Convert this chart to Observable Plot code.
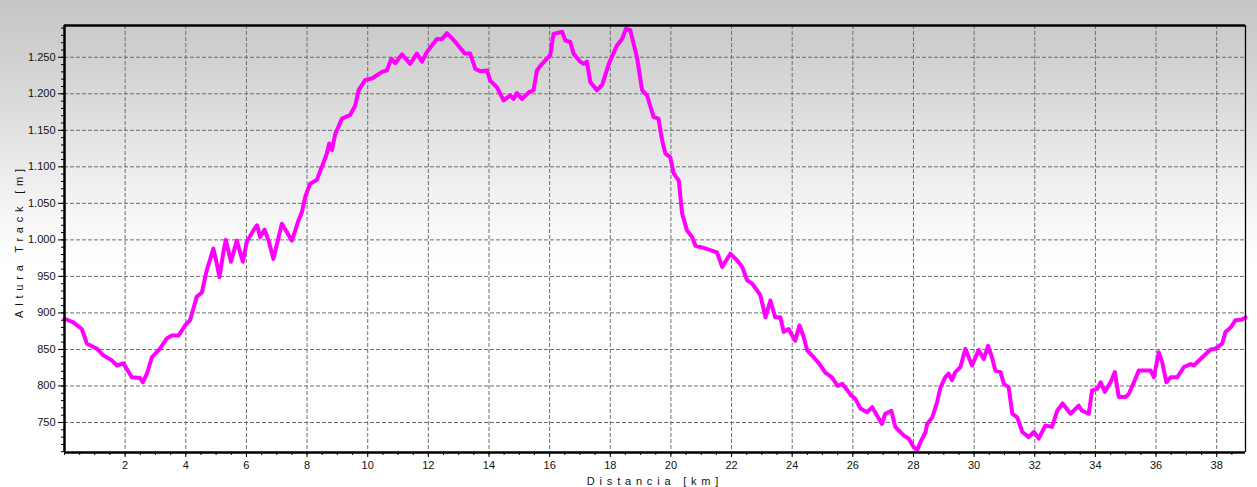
<!DOCTYPE html>
<html>
<head>
<meta charset="utf-8">
<script src="https://cdn.jsdelivr.net/npm/d3@7"></script>
<script src="https://cdn.jsdelivr.net/npm/@observablehq/plot@0.6"></script>
<style>
  html, body { margin: 0; padding: 0; background: #fff; }
  #wrap {
    width: 1257px; height: 487px; overflow: hidden;
    background: linear-gradient(to bottom, #c6c6c6 0px, #cdcdcd 40px, #dadada 100px, #e8e8e8 155px, #f6f6f6 215px, #ffffff 265px, #ffffff 487px);
  }
</style>
</head>
<body>
<div id="wrap"></div>
<script>
const distKm = [0,0.29,0.57,0.74,1.07,1.28,1.56,1.73,1.94,2.22,2.49,2.58,2.72,2.88,3.15,3.37,3.54,3.76,3.98,4.14,4.36,4.53,4.69,4.91,5.0,5.11,5.24,5.32,5.49,5.68,5.88,6.01,6.23,6.35,6.45,6.6,6.73,6.89,7.17,7.5,7.72,7.83,7.94,8.1,8.32,8.49,8.65,8.73,8.82,8.93,9.15,9.42,9.59,9.7,9.92,10.14,10.47,10.63,10.78,10.91,11.13,11.4,11.62,11.79,11.95,12.28,12.45,12.61,12.89,13.2,13.38,13.55,13.71,13.93,14.04,14.26,14.48,14.7,14.81,14.92,15.09,15.31,15.47,15.58,15.75,16.02,16.13,16.41,16.52,16.68,16.79,17.01,17.12,17.23,17.34,17.56,17.73,17.95,18.22,18.39,18.52,18.66,18.88,19.05,19.21,19.43,19.59,19.71,19.82,19.98,20.09,20.26,20.37,20.53,20.7,20.81,21.08,21.3,21.52,21.69,21.96,22.18,22.35,22.51,22.68,22.84,22.95,23.12,23.28,23.44,23.61,23.72,23.88,24.1,24.24,24.38,24.49,24.71,24.9,25.1,25.3,25.5,25.65,25.8,25.95,26.09,26.25,26.47,26.64,26.96,27.07,27.27,27.4,27.68,27.84,28.01,28.12,28.23,28.4,28.45,28.62,28.78,28.89,29.05,29.16,29.27,29.38,29.55,29.71,29.93,30.15,30.32,30.46,30.59,30.7,30.87,30.98,31.14,31.26,31.42,31.59,31.8,31.97,32.13,32.35,32.57,32.74,32.92,33.18,33.45,33.56,33.78,33.89,34.06,34.17,34.31,34.5,34.64,34.77,34.99,35.1,35.27,35.43,35.66,35.82,35.93,36.09,36.2,36.34,36.48,36.7,36.92,37.14,37.25,37.52,37.8,37.96,38.18,38.29,38.46,38.62,38.84,38.95];
const altM = [892,887,878,858,851,842,835,828,831,812,811,805,817,839,851,865,869,869,883,890,922,928,958,988,972,949,983,1000,970,999,970,997,1013,1020,1004,1014,999,974,1022,999,1027,1038,1059,1077,1082,1100,1118,1132,1123,1145,1166,1171,1184,1205,1219,1221,1230,1232,1248,1242,1254,1241,1255,1244,1257,1275,1275,1283,1271,1255,1255,1234,1231,1232,1218,1209,1191,1198,1193,1201,1193,1202,1205,1232,1241,1253,1282,1285,1273,1271,1255,1244,1241,1244,1216,1205,1212,1241,1266,1275,1289,1287,1250,1205,1198,1168,1166,1136,1118,1113,1091,1081,1036,1013,1004,992,989,986,983,963,981,972,963,945,940,931,924,894,917,894,894,874,878,862,883,867,849,839,830,818,812,800,803,795,787,782,769,764,771,748,762,766,744,732,728,716,712,723,737,748,757,778,798,812,817,808,819,826,851,828,849,837,855,839,821,819,803,798,762,757,737,730,737,728,746,744,766,776,762,773,766,762,794,796,805,792,805,819,785,785,789,805,821,821,821,812,846,833,805,812,812,826,830,828,839,850,851,858,874,880,890,891,894];

const xTicks = d3.range(2, 39, 2);
const yTicks = d3.range(750, 1251, 50);
const xMinor = d3.range(0, 38.95, 0.5);
const yMinor = d3.range(710, 1291, 10);
const xDomain = [0, 38.95];
const yDomain = [708.9, 1293.5];
const xTitle = "Distancia [km]";
const yTitle = "Altura Track [m]";

const track = distKm.map((d, i) => ({d, a: altM[i]}));
const fmtAlt = v => v >= 1000 ? `${Math.floor(v / 1000)}.${String(v % 1000).padStart(3, "0")}` : String(v);

const chart = Plot.plot({
  width: 1257,
  height: 487,
  marginLeft: 64,
  marginRight: 12,
  marginTop: 25,
  marginBottom: 35,
  style: {background: "transparent", fontFamily: "'Liberation Sans', Arial, sans-serif", fontSize: "11px", color: "#111", overflow: "visible"},
  x: {domain: xDomain},
  y: {domain: yDomain},
  marks: [
    Plot.ruleX(xTicks, {stroke: "#6e6e6e", strokeWidth: 1, strokeDasharray: "4,2"}),
    Plot.ruleY(yTicks, {stroke: "#6e6e6e", strokeWidth: 1, strokeDasharray: "4,2"}),
    Plot.axisX({ticks: xMinor, tickSize: 3, tickFormat: () => "", label: null, stroke: "#000"}),
    Plot.axisX({ticks: xTicks, tickSize: 5, tickPadding: 4, tickFormat: d => String(d), label: null, stroke: "#000", fill: "#111"}),
    Plot.axisY({ticks: yMinor, tickSize: 3, tickFormat: () => "", label: null, stroke: "#000"}),
    Plot.axisY({ticks: yTicks, tickSize: 6, tickPadding: 3, tickFormat: fmtAlt, label: null, stroke: "#000", fill: "#111"}),
    Plot.line(track, {x: "d", y: "a", stroke: "#ff00ff", strokeWidth: 4, strokeLinejoin: "round", strokeLinecap: "round"}),
    Plot.ruleX([xDomain[0]], {stroke: "#000", strokeWidth: 2.5}),
    Plot.ruleX([xDomain[1]], {stroke: "#000", strokeWidth: 1.3}),
    Plot.ruleY([yDomain[0]], {stroke: "#000", strokeWidth: 2.5}),
    Plot.ruleY([yDomain[1]], {stroke: "#000", strokeWidth: 2.5}),
    Plot.text([xTitle], {text: d => d, frameAnchor: "bottom", textAnchor: "middle", lineAnchor: "middle", dy: 29, fontSize: 11, fill: "#111"}),
    Plot.text([yTitle], {text: d => d, frameAnchor: "left", textAnchor: "middle", lineAnchor: "middle", dx: -45, dy: 2, rotate: -90, fontSize: 11, fill: "#111"})
  ]
});

d3.select(chart).selectAll("text")
  .filter(function() { return this.textContent === xTitle || this.textContent === yTitle; })
  .style("letter-spacing", "4.8px");

document.getElementById("wrap").appendChild(chart);
</script>
</body>
</html>
